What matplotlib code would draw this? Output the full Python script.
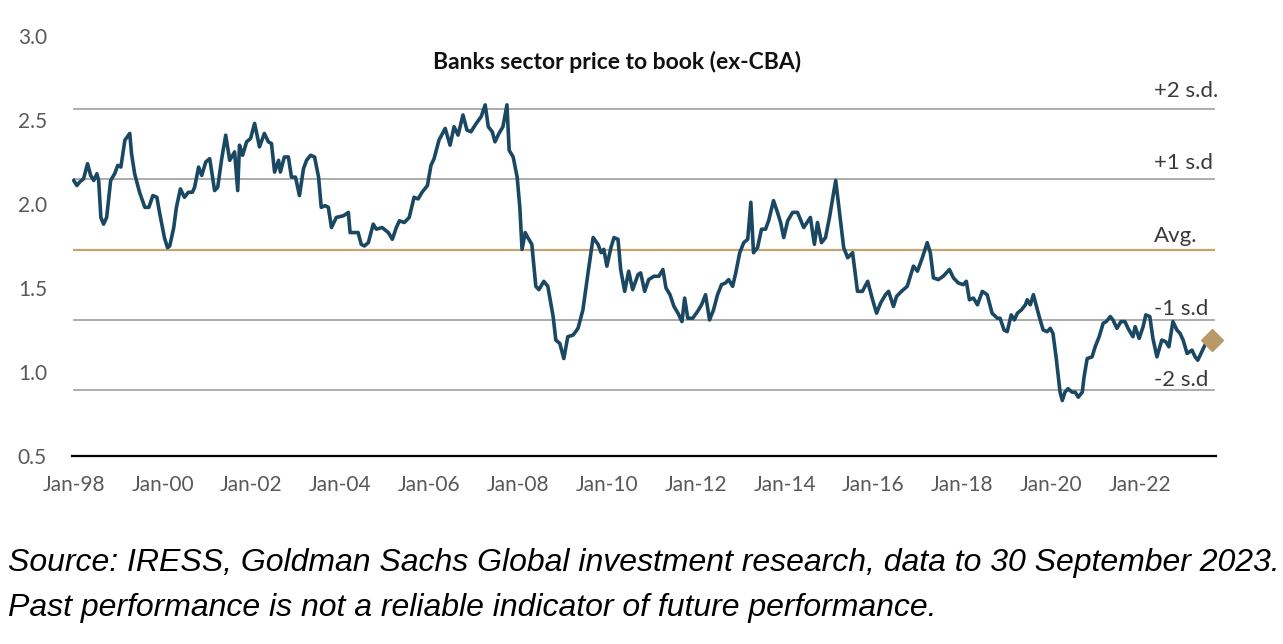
import matplotlib
matplotlib.use("Agg")
import matplotlib.pyplot as plt

# ---- data ----
dates = [
    1998.00, 1998.07, 1998.13, 1998.22, 1998.31, 1998.38, 1998.45, 1998.52, 1998.56, 1998.61,
    1998.67, 1998.74, 1998.83, 1998.92, 1998.99, 1999.06, 1999.15, 1999.26, 1999.30, 1999.37,
    1999.48, 1999.60, 1999.69, 1999.78, 1999.87, 1999.93, 2000.04, 2000.11, 2000.16, 2000.25,
    2000.31, 2000.40, 2000.49, 2000.58, 2000.67, 2000.72, 2000.81, 2000.88, 2000.97, 2001.06,
    2001.17, 2001.24, 2001.33, 2001.42, 2001.51, 2001.62, 2001.69, 2001.73, 2001.80, 2001.89,
    2001.98, 2002.07,
    2002.18, 2002.29, 2002.38, 2002.45, 2002.52, 2002.61, 2002.65, 2002.74, 2002.83, 2002.90,
    2002.99, 2003.08, 2003.17, 2003.24, 2003.33, 2003.42, 2003.51, 2003.57, 2003.66, 2003.73,
    2003.80, 2003.91, 2004.07, 2004.18, 2004.22, 2004.31, 2004.40, 2004.47, 2004.54, 2004.63,
    2004.74, 2004.81, 2004.94, 2005.08, 2005.17, 2005.26, 2005.33, 2005.44, 2005.55, 2005.66,
    2005.75, 2005.84, 2005.96, 2006.04, 2006.11, 2006.22, 2006.36,
    2006.47, 2006.56, 2006.65, 2006.76, 2006.85, 2006.94, 2007.06, 2007.17, 2007.26, 2007.33,
    2007.42, 2007.48, 2007.57, 2007.66, 2007.75, 2007.80, 2007.89, 2007.98, 2008.04, 2008.09,
    2008.16, 2008.22, 2008.31, 2008.40, 2008.47, 2008.58, 2008.67, 2008.79, 2008.85, 2008.94,
    2009.03, 2009.12, 2009.24, 2009.35, 2009.46, 2009.57, 2009.69, 2009.80, 2009.87, 2009.93,
    2010.00, 2010.09, 2010.16, 2010.25, 2010.31, 2010.40, 2010.49, 2010.58, 2010.70,
    2010.76, 2010.85, 2010.94, 2011.06, 2011.17, 2011.26, 2011.33, 2011.42, 2011.51, 2011.60,
    2011.69, 2011.75, 2011.82, 2011.93, 2012.04, 2012.13, 2012.22, 2012.31, 2012.40, 2012.49,
    2012.58, 2012.67, 2012.74, 2012.83, 2012.90, 2012.99, 2013.08, 2013.17, 2013.24, 2013.30,
    2013.39, 2013.48, 2013.57, 2013.64, 2013.75, 2013.84, 2013.91, 2013.98, 2014.07, 2014.18,
    2014.29, 2014.43, 2014.58, 2014.67, 2014.74, 2014.83, 2014.92, 2015.01, 2015.15,
    2015.33, 2015.42, 2015.53, 2015.64, 2015.75, 2015.87, 2015.98, 2016.07, 2016.16, 2016.27,
    2016.34, 2016.45, 2016.52, 2016.63, 2016.76, 2016.83, 2016.90, 2016.99, 2017.10, 2017.21,
    2017.28, 2017.35, 2017.46, 2017.57, 2017.71, 2017.80, 2017.91, 2018.02, 2018.09, 2018.16,
    2018.25, 2018.34, 2018.45, 2018.56,
    2018.67, 2018.79, 2018.85, 2018.94, 2019.01, 2019.10, 2019.17, 2019.24, 2019.33, 2019.42,
    2019.46, 2019.53, 2019.60, 2019.66, 2019.73, 2019.82, 2019.91, 2019.98, 2020.04, 2020.11,
    2020.20, 2020.25, 2020.31, 2020.38, 2020.47, 2020.54, 2020.61, 2020.70, 2020.74, 2020.81,
    2020.92, 2020.99, 2021.08, 2021.17, 2021.24, 2021.33, 2021.39, 2021.48, 2021.57, 2021.66,
    2021.73, 2021.84, 2021.89, 2021.98, 2022.07, 2022.13, 2022.22, 2022.29, 2022.38, 2022.49,
    2022.58, 2022.65, 2022.74, 2022.83, 2022.90, 2022.97, 2023.06, 2023.17, 2023.24, 2023.30,
    2023.39, 2023.46,
]
price_to_book = [
    2.14, 2.11, 2.13, 2.15, 2.24, 2.17, 2.14, 2.18, 2.14, 1.92,
    1.88, 1.92, 2.14, 2.18, 2.23, 2.22, 2.38, 2.42, 2.30, 2.18,
    2.07, 1.98, 1.98, 2.05, 2.04, 1.95, 1.80, 1.74, 1.75, 1.86,
    1.98, 2.09, 2.04, 2.07, 2.07, 2.10, 2.22, 2.17, 2.25, 2.27,
    2.08, 2.10, 2.27, 2.41, 2.26, 2.31, 2.08, 2.35, 2.29, 2.37,
    2.39, 2.48,
    2.34, 2.42, 2.37, 2.36, 2.19, 2.26, 2.19, 2.28, 2.28, 2.16,
    2.16, 2.05, 2.21, 2.26, 2.29, 2.28, 2.16, 1.98, 1.99, 1.98,
    1.86, 1.92, 1.93, 1.95, 1.83, 1.83, 1.83, 1.76, 1.75, 1.77,
    1.88, 1.85, 1.86, 1.83, 1.79, 1.86, 1.90, 1.89, 1.92, 2.04,
    2.03, 2.07, 2.11, 2.23, 2.27, 2.38, 2.45,
    2.35, 2.46, 2.41, 2.53, 2.44, 2.43, 2.48, 2.52, 2.59, 2.46,
    2.43, 2.37, 2.42, 2.46, 2.59, 2.32, 2.28, 2.16, 1.98, 1.73,
    1.83, 1.80, 1.76, 1.51, 1.49, 1.54, 1.51, 1.33, 1.19, 1.17,
    1.08, 1.21, 1.22, 1.26, 1.37, 1.58, 1.80, 1.76, 1.71, 1.73,
    1.63, 1.74, 1.80, 1.79, 1.61, 1.48, 1.60, 1.49, 1.58,
    1.59, 1.48, 1.55, 1.57, 1.57, 1.61, 1.50, 1.46, 1.39, 1.35,
    1.30, 1.44, 1.32, 1.32, 1.36, 1.40, 1.46, 1.31, 1.37, 1.46,
    1.52, 1.53, 1.55, 1.51, 1.59, 1.71, 1.77, 1.79, 2.01, 1.71,
    1.74, 1.85, 1.85, 1.90, 2.02, 1.95, 1.89, 1.80, 1.90, 1.95,
    1.95, 1.86, 1.92, 1.76, 1.89, 1.77, 1.80, 1.92, 2.14,
    1.74, 1.68, 1.71, 1.48, 1.48, 1.54, 1.43, 1.35, 1.41, 1.46,
    1.48, 1.39, 1.45, 1.48, 1.51, 1.57, 1.63, 1.60, 1.68, 1.77,
    1.71, 1.56, 1.55, 1.57, 1.61, 1.56, 1.53, 1.52, 1.54, 1.43,
    1.44, 1.40, 1.48, 1.46,
    1.35, 1.32, 1.32, 1.25, 1.24, 1.34, 1.31, 1.35, 1.37, 1.40,
    1.43, 1.40, 1.46, 1.40, 1.33, 1.25, 1.24, 1.26, 1.23, 1.09,
    0.88, 0.83, 0.88, 0.90, 0.88, 0.88, 0.85, 0.88, 0.97, 1.08,
    1.09, 1.15, 1.21, 1.29, 1.30, 1.33, 1.31, 1.26, 1.30, 1.30,
    1.26, 1.21, 1.27, 1.20, 1.27, 1.34, 1.33, 1.20, 1.09, 1.19,
    1.18, 1.15, 1.30, 1.25, 1.23, 1.19, 1.11, 1.13, 1.09, 1.07,
    1.12, 1.16,
]
latest_date = [2023.62]
latest_value = [1.19]

mean_pb = 1.729
sd_pb = 0.418
band_multiples = [2, 1, 0, -1, -2]
band_labels = ["+2 s.d.", "+1 s.d", "Avg.", "-1 s.d", "-2 s.d"]

y_ticks = [0.5, 1.0, 1.5, 2.0, 2.5, 3.0]
y_tick_labels = ["0.5", "1.0", "1.5", "2.0", "2.5", "3.0"]
x_tick_years = [1998, 2000, 2002, 2004, 2006, 2008, 2010, 2012, 2014, 2016, 2018, 2020, 2022]
x_tick_labels = ["Jan-98", "Jan-00", "Jan-02", "Jan-04", "Jan-06", "Jan-08", "Jan-10",
                 "Jan-12", "Jan-14", "Jan-16", "Jan-18", "Jan-20", "Jan-22"]

title = "Banks sector price to book (ex-CBA)"
source_lines = [
    "Source: IRESS, Goldman Sachs Global investment research, data to 30 September 2023.",
    "Past performance is not a reliable indicator of future performance.",
]

# ---- styling ----
LINE_COLOR = "#1a4862"
GOLD = "#c4a472"
GREY = "#a6a6a6"
TICK_GREY = "#595959"
chart_font = ["Lato", "DejaVu Sans"]

W, H = 1283, 644
fig = plt.figure(figsize=(W / 100, H / 100), dpi=100)
ax = fig.add_axes([72 / W, 1 - 456 / H, (1216 - 72) / W, (456 - 36) / H])

# s.d. band lines
label_offsets = [13, 11.5, 9.5, 8, 7]
for mult, lab, off in zip(band_multiples, band_labels, label_offsets):
    level = mean_pb + mult * sd_pb
    ax.axhline(level, color=GOLD if mult == 0 else GREY, lw=1.6 if mult == 0 else 1.3,
               zorder=1, xmin=0.0015, xmax=0.998)
    ax.annotate(lab, xy=(0.9458, level), xycoords=("axes fraction", "data"),
                xytext=(0, off), textcoords="offset points", ha="left", va="center",
                fontsize=16, color="#3a3a3a", family=chart_font)

ax.plot(dates, price_to_book, color=LINE_COLOR, lw=2.6, solid_joinstyle="round", zorder=3)
ax.plot(latest_date, latest_value, marker="D", ms=11, color="#b89a68", ls="none",
        zorder=4, clip_on=False)

ax.set_xlim(1997.96, 2023.71)
ax.set_ylim(0.5, 3.0)
ax.set_yticks(y_ticks)
ax.set_yticklabels(y_tick_labels)
ax.set_xticks(x_tick_years)
ax.set_xticklabels(x_tick_labels)
for lbl in ax.get_xticklabels() + ax.get_yticklabels():
    lbl.set_family(chart_font)
    lbl.set_fontsize(15)
    lbl.set_color(TICK_GREY)
ax.tick_params(axis="both", length=0)
ax.tick_params(axis="x", pad=14)
ax.tick_params(axis="y", pad=18)

for side in ["left", "right", "top"]:
    ax.spines[side].set_visible(False)
ax.spines["bottom"].set_color("black")
ax.spines["bottom"].set_linewidth(1.6)

fig.text(617 / W, 1 - 62 / H, title, ha="center", va="center", fontsize=16.5,
         fontweight="bold", color="#111111", family=chart_font)

fig.text(8 / W, 1 - 563 / H, source_lines[0], ha="left", va="center", fontsize=23,
         style="italic", color="black", family=["Liberation Sans", "DejaVu Sans"])
fig.text(8 / W, 1 - 608 / H, source_lines[1], ha="left", va="center", fontsize=23,
         style="italic", color="black", family=["Liberation Sans", "DejaVu Sans"])

fig.savefig("out.png", dpi=100, facecolor="white")
